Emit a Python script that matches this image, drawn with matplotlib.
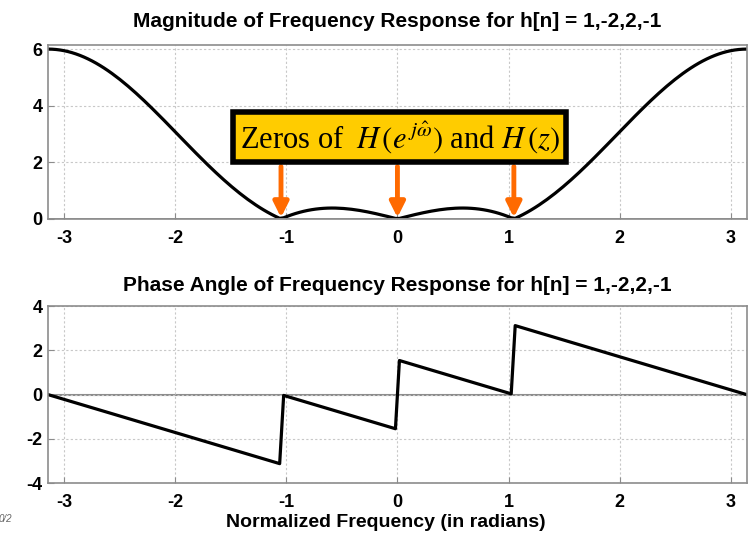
import numpy as np
import matplotlib
matplotlib.use('Agg')
import matplotlib.pyplot as plt

# filter coefficients, as given in the titles
h = [1, -2, 2, -1]
n_points = 176
zero_freqs = [-np.pi / 3, 0.0, np.pi / 3]
mag_yticks = [0, 2, 4, 6]
phase_yticks = [-4, -2, 0, 2, 4]
xticks = [-3, -2, -1, 0, 1, 2, 3]

# frequency response from the coefficients
w = np.linspace(-np.pi, np.pi, n_points)
H = sum(c * np.exp(-1j * w * k) for k, c in enumerate(h))
mag = np.abs(H)
phase = np.angle(H)

plt.rcParams['font.family'] = ['Liberation Sans', 'DejaVu Sans']
plt.rcParams['mathtext.fontset'] = 'stix'
plt.rcParams['axes.unicode_minus'] = False

GRAY = '#8c8c8c'
fig = plt.figure(figsize=(7.52, 5.34), dpi=100)
ax1 = fig.add_axes([0.064, 0.590, 0.929, 0.326])
ax2 = fig.add_axes([0.064, 0.0955, 0.929, 0.331])


def style(ax, yticks):
    ax.set_xlim(-np.pi, np.pi)
    ax.set_xticks(xticks)
    ax.set_yticks(yticks)
    ax.grid(True, color='#c8c8c8', linestyle=(0, (2, 2)), linewidth=0.8)
    ax.tick_params(direction='in', color=GRAY, length=4, labelsize=13)
    ax.tick_params(axis='x', pad=8)
    ax.tick_params(axis='y', pad=4)
    for lab in ax.get_xticklabels() + ax.get_yticklabels():
        lab.set_fontweight('bold')
    for sp in ax.spines.values():
        sp.set_color(GRAY)
        sp.set_linewidth(1.2)


ax1.plot(w, mag, color='black', linewidth=2.3)
ax1.set_ylim(0, 6.15)
style(ax1, mag_yticks)
ax1.axhline(0, color=GRAY, linewidth=2.0)
ax1.set_title('Magnitude of Frequency Response for h[n] = 1,-2,2,-1',
              fontsize=15, fontweight='bold', pad=13)

ax1.text(0.02, 2.9, r'Zeros of $\;H\,(e^{\,j\hat{\omega}})$ and $H\,(z)$',
         fontsize=22, family='Liberation Serif', ha='center', va='center',
         bbox=dict(boxstyle='square,pad=0.22', fc='#ffcc00', ec='black', lw=4),
         zorder=6)
for z in zero_freqs:
    ax1.annotate('', xy=(z, 0.05), xytext=(z, 1.85),
                 arrowprops=dict(arrowstyle='-|>,head_width=0.45,head_length=0.9',
                                 color='#ff6a00', lw=3.5, shrinkA=0, shrinkB=0),
                 zorder=5)

ax2.plot(w, phase, color='black', linewidth=2.3)
ax2.set_ylim(-4, 4)
style(ax2, phase_yticks)
ax2.axhline(0, color=GRAY, linewidth=1.5, zorder=1)
ax2.set_title('Phase Angle of Frequency Response for h[n] = 1,-2,2,-1',
              fontsize=15, fontweight='bold', pad=11)
ax2.set_xlabel('Normalized Frequency (in radians)', fontsize=14,
               fontweight='bold')
ax2.xaxis.set_label_coords(0.484, -0.175)

fig.text(-0.002, 0.022, '0/2', fontsize=7, color='#666666', style='italic')

fig.savefig('out.png', dpi=100)
